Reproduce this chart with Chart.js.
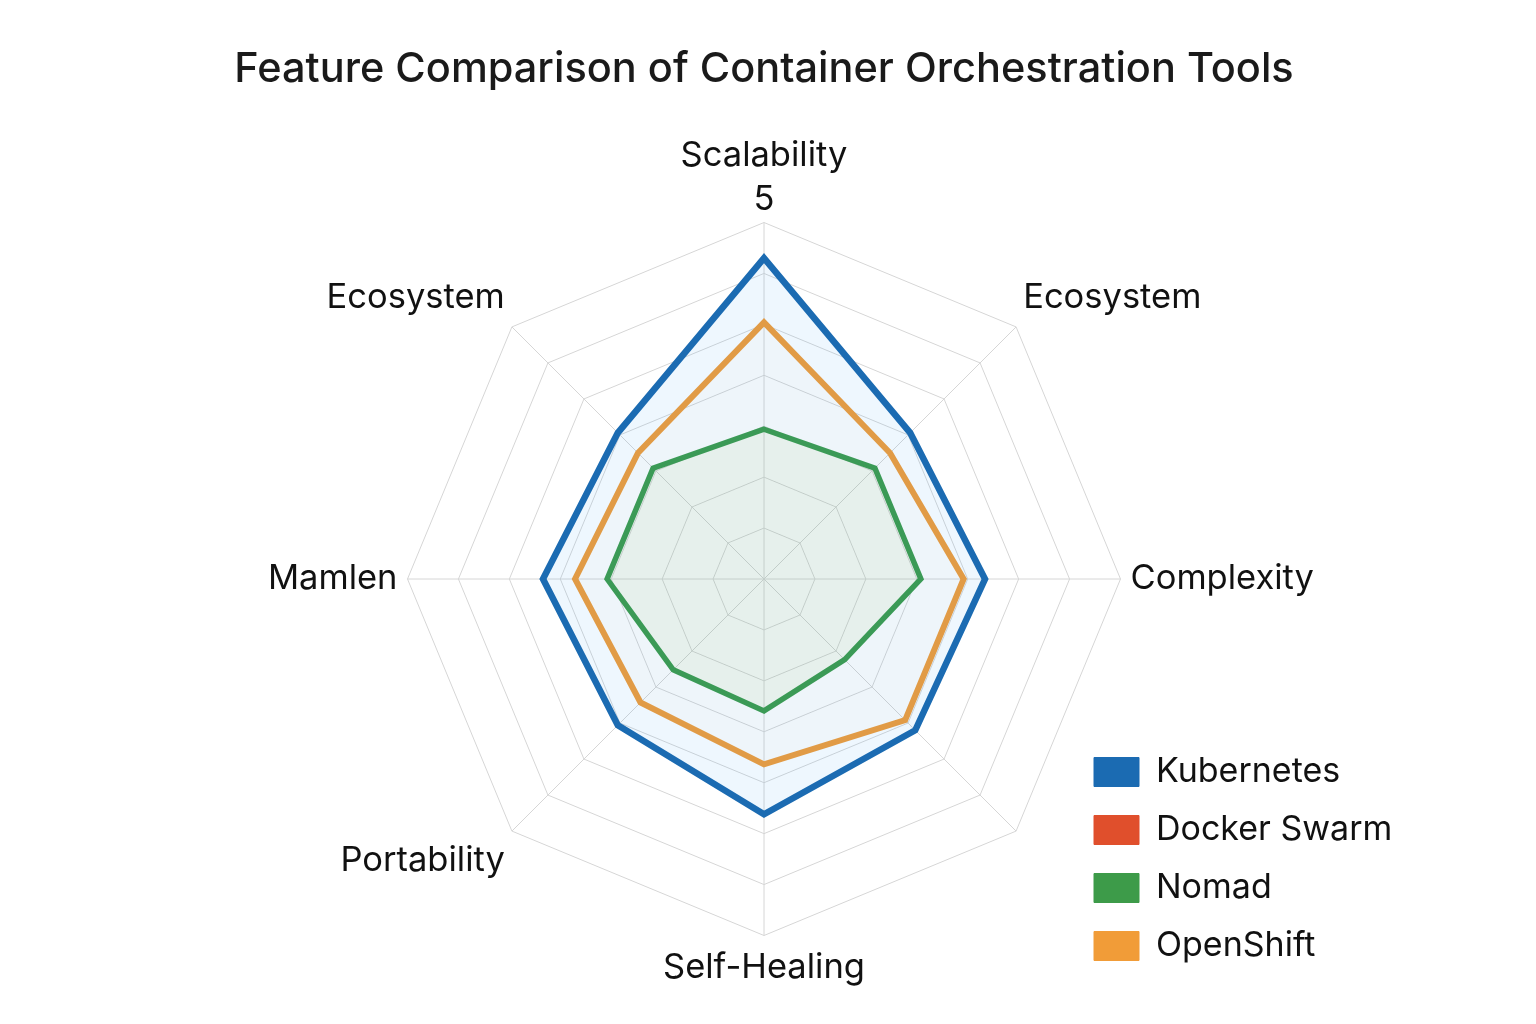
<!DOCTYPE html>
<html>
<head>
<meta charset="utf-8">
<script src="https://cdn.jsdelivr.net/npm/chart.js@4"></script>
<style>
  html, body { margin: 0; padding: 0; background: #ffffff; }
  #wrap { width: 1536px; height: 1024px; }
</style>
</head>
<body>
<div id="wrap"><canvas id="c" width="1536" height="1024"></canvas></div>
<script>
// ---- data ----
const chartTitle = 'Feature Comparison of Container Orchestration Tools';
const categories = ['Scalability', 'Ecosystem', 'Complexity', '', 'Self-Healing', 'Portability', 'Mamlen', 'Ecosystem'];
const seriesNames = ['Kubernetes', 'Docker Swarm', 'Nomad', 'OpenShift'];
const kubernetes  = [4.5, 2.9, 3.1, 3.0, 3.3, 2.9, 3.1, 2.9];
const dockerSwarm = [null, null, null, null, null, null, null, null];
const nomad       = [2.1, 2.2, 2.2, 1.6, 1.85, 1.8, 2.2, 2.2];
const openShift   = [3.6, 2.5, 2.8, 2.8, 2.6, 2.45, 2.65, 2.5];
const scaleMin = 0;
const scaleMax = 5;
const ringCount = 7;
const tickLabels = ['5'];

// ---- styles ----
const lineColors = ['#1b6bb2', '#e04f2c', '#3d9b49', '#f19c38'];
const fillColors = ['rgba(33,150,243,0.08)', 'rgba(224,79,44,0.08)', 'rgba(140,180,40,0.07)', 'rgba(242,160,62,0.02)'];
const lineWidths = [6.5, 5, 5.5, 6];
const seriesValues = [kubernetes, dockerSwarm, nomad, openShift];

const legendPlacement = { left: 1070, top: 731 };
const placeLegend = {
  id: 'placeLegend',
  afterLayout(chart) {
    const lg = chart.legend;
    if (!lg) return;
    const w = lg.width, h = lg.height;
    lg.left = legendPlacement.left;
    lg.top = legendPlacement.top;
    lg.right = lg.left + w;
    lg.bottom = lg.top + h;
  }
};

const datasets = seriesNames.map((name, i) => ({
  label: name,
  data: seriesValues[i],
  borderColor: lineColors[i],
  backgroundColor: fillColors[i],
  borderWidth: lineWidths[i],
  fill: true,
  pointRadius: 0,
  pointHoverRadius: 0,
  spanGaps: false
}));

new Chart(document.getElementById('c'), {
  type: 'radar',
  data: { labels: categories, datasets },
  plugins: [placeLegend],
  options: {
    responsive: false,
    animation: false,
    layout: { padding: { top: 0, right: 8, bottom: 15, left: 0 } },
    plugins: {
      title: {
        display: true,
        text: chartTitle,
        color: '#1a1a1a',
        font: { family: 'Inter', size: 41.5, weight: '500' },
        padding: { top: 45, bottom: 21 }
      },
      legend: {
        position: 'chartArea',
        align: 'start',
        labels: {
          color: '#111111',
          font: { family: 'Inter', size: 34 },
          boxWidth: 45,
          boxHeight: 29,
          padding: 24,
          generateLabels(chart) {
            const items = Chart.defaults.plugins.legend.labels.generateLabels(chart);
            items.forEach((it, i) => {
              it.fillStyle = lineColors[i];
              it.strokeStyle = lineColors[i];
              it.lineWidth = 1;
            });
            return items;
          }
        }
      },
      tooltip: { enabled: false }
    },
    scales: {
      r: {
        min: scaleMin,
        max: scaleMax,
        ticks: { display: false, count: ringCount + 1 },
        grid: { color: '#d6d6d6', lineWidth: 1 },
        angleLines: { color: '#d6d6d6', lineWidth: 1 },
        pointLabels: {
          color: '#111111',
          font: { family: 'Inter', size: 34.5, lineHeight: 1.3 },
          padding: (ctx) => ctx.index === 0 ? 0 : 10,
          callback: (label, index) => index === 0 ? [label, tickLabels[0]] : label
        }
      }
    }
  }
});
</script>
</body>
</html>
